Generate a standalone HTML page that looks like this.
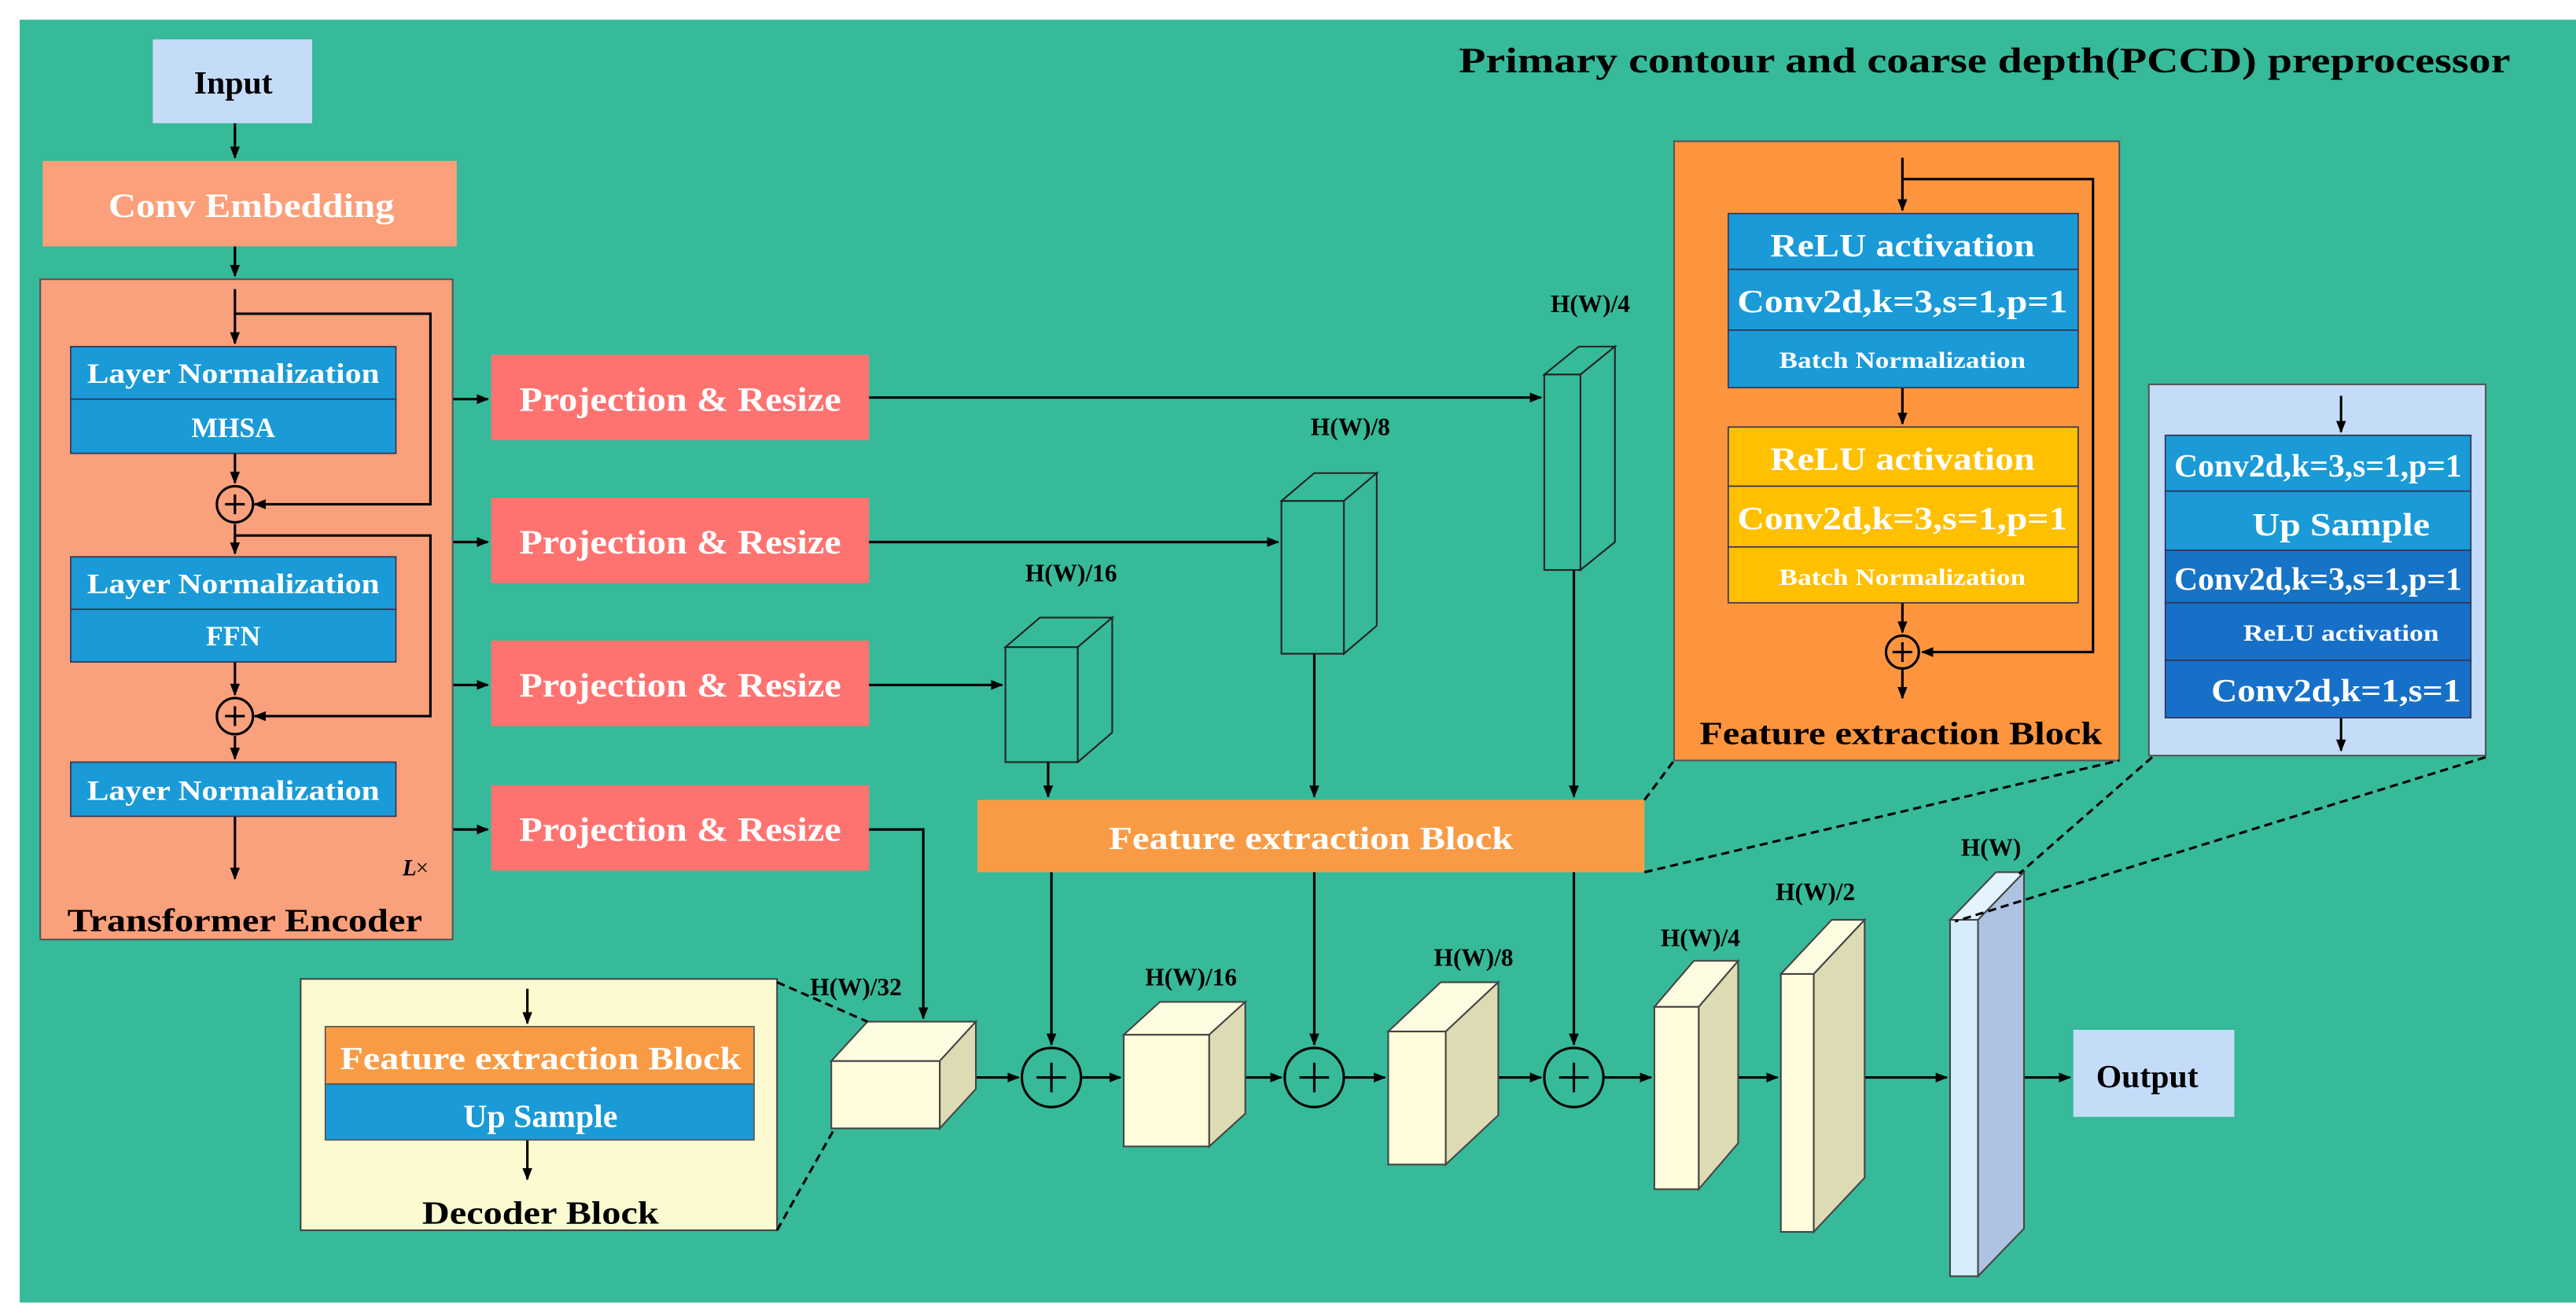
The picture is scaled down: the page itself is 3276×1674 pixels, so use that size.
<!DOCTYPE html>
<html><head><meta charset="utf-8"><style>html,body{margin:0;padding:0;background:#fff}svg{display:block}</style></head>
<body>
<svg width="3276" height="1674" viewBox="0 0 1568 801.2" xmlns="http://www.w3.org/2000/svg" font-family="'Liberation Serif', serif" font-weight="bold">
<defs>
<marker id="a" viewBox="0 0 10 10" refX="9" refY="5" markerWidth="5" markerHeight="5" orient="auto"><path d="M0,1 L10,5 L0,9 z" fill="#000"/></marker>
</defs>
<rect x="0" y="0" width="1568" height="801.2" fill="#fff"/>
<rect x="12" y="12" width="1556" height="781" fill="#36BA9A"/>
<text x="1528" y="44" font-size="22" text-anchor="end" textLength="640" lengthAdjust="spacingAndGlyphs">Primary contour and coarse depth(PCCD) preprocessor</text>

<g stroke="#000" stroke-width="1.5" fill="none">
<line x1="143" y1="75" x2="143" y2="96" marker-end="url(#a)"/>
<line x1="143" y1="150" x2="143" y2="168" marker-end="url(#a)"/>
</g>
<rect x="93" y="24" width="97" height="51" fill="#C5DCF9"/>
<text x="142" y="57" font-size="20" text-anchor="middle">Input</text>
<rect x="26" y="98" width="252" height="52" fill="#FBA07A"/>
<text x="153" y="132" font-size="21" fill="#fff" text-anchor="middle" textLength="174" lengthAdjust="spacingAndGlyphs">Conv Embedding</text>

<!-- Transformer encoder -->
<rect x="24.5" y="170" width="251" height="402" fill="#F9A07C" stroke="#555" stroke-width="1"/>
<g stroke="#000" stroke-width="1.5" fill="none">
<line x1="143" y1="176" x2="143" y2="209" marker-end="url(#a)"/>
<polyline points="143,191 262,191 262,307 155,307" marker-end="url(#a)"/>
<line x1="143" y1="276" x2="143" y2="294" marker-end="url(#a)"/>
<line x1="143" y1="319" x2="143" y2="337" marker-end="url(#a)"/>
<polyline points="143,326 262,326 262,436 155,436" marker-end="url(#a)"/>
<line x1="143" y1="403" x2="143" y2="423" marker-end="url(#a)"/>
<line x1="143" y1="448" x2="143" y2="462" marker-end="url(#a)"/>
<line x1="143" y1="497" x2="143" y2="535" marker-end="url(#a)"/>
<circle cx="143" cy="307" r="11"/><line x1="137" y1="307" x2="149" y2="307"/><line x1="143" y1="301" x2="143" y2="313"/>
<circle cx="143" cy="436" r="11"/><line x1="137" y1="436" x2="149" y2="436"/><line x1="143" y1="430" x2="143" y2="442"/>
</g>
<g stroke="#335" stroke-width="0.8" fill="#1A9AD6">
<rect x="43" y="211" width="198" height="32"/><rect x="43" y="243" width="198" height="33"/>
<rect x="43" y="339" width="198" height="32"/><rect x="43" y="371" width="198" height="32"/>
<rect x="43" y="464" width="198" height="33"/>
</g>
<g fill="#fff" font-size="17" text-anchor="middle">
<text x="142" y="233" textLength="178" lengthAdjust="spacingAndGlyphs">Layer Normalization</text>
<text x="142" y="266">MHSA</text>
<text x="142" y="361" textLength="178" lengthAdjust="spacingAndGlyphs">Layer Normalization</text>
<text x="142" y="393">FFN</text>
<text x="142" y="487" textLength="178" lengthAdjust="spacingAndGlyphs">Layer Normalization</text>
</g>
<text x="245" y="533" font-size="14" font-style="italic">L</text><text x="253" y="533" font-size="14" font-weight="normal">×</text>
<text x="149" y="567" font-size="20" text-anchor="middle" textLength="216" lengthAdjust="spacingAndGlyphs">Transformer Encoder</text>

<!-- projection boxes -->
<g fill="#FE7370">
<rect x="299" y="216" width="230" height="52"/><rect x="299" y="303" width="230" height="52"/>
<rect x="299" y="390" width="230" height="52"/><rect x="299" y="478" width="230" height="52"/>
</g>
<g fill="#fff" font-size="21" text-anchor="middle">
<text x="414" y="250" textLength="196" lengthAdjust="spacingAndGlyphs">Projection &amp; Resize</text>
<text x="414" y="337" textLength="196" lengthAdjust="spacingAndGlyphs">Projection &amp; Resize</text>
<text x="414" y="424" textLength="196" lengthAdjust="spacingAndGlyphs">Projection &amp; Resize</text>
<text x="414" y="512" textLength="196" lengthAdjust="spacingAndGlyphs">Projection &amp; Resize</text>
</g>
<g stroke="#000" stroke-width="1.5" fill="none">
<line x1="276" y1="243" x2="297" y2="243" marker-end="url(#a)"/>
<line x1="276" y1="330" x2="297" y2="330" marker-end="url(#a)"/>
<line x1="276" y1="417" x2="297" y2="417" marker-end="url(#a)"/>
<line x1="276" y1="505" x2="297" y2="505" marker-end="url(#a)"/>
<line x1="529" y1="242" x2="938" y2="242" marker-end="url(#a)"/>
<line x1="529" y1="330" x2="778" y2="330" marker-end="url(#a)"/>
<line x1="529" y1="417" x2="610" y2="417" marker-end="url(#a)"/>
<polyline points="529,505 562,505 562,620" marker-end="url(#a)"/>
<line x1="638" y1="464" x2="638" y2="485" marker-end="url(#a)"/>
<line x1="800" y1="398" x2="800" y2="485" marker-end="url(#a)"/>
<line x1="958" y1="347" x2="958" y2="485" marker-end="url(#a)"/>
<line x1="640" y1="531" x2="640" y2="636" marker-end="url(#a)"/>
<line x1="800" y1="531" x2="800" y2="636" marker-end="url(#a)"/>
<line x1="958" y1="531" x2="958" y2="636" marker-end="url(#a)"/>
</g>

<!-- upper teal boxes -->
<g stroke="#222" stroke-width="1" fill="#36BA9A">
<polygon points="940,228 961,211 983,211 962,228"/><polygon points="962,228 983,211 983,330 962,347"/><rect x="940" y="228" width="22" height="119"/>
<polygon points="780,305 800,288 838,288 818,305"/><polygon points="818,305 838,288 838,381 818,398"/><rect x="780" y="305" width="38" height="93"/>
<polygon points="612,394 633,376 677,376 656,394"/><polygon points="656,394 677,376 677,446 656,464"/><rect x="612" y="394" width="44" height="70"/>
</g>
<g font-size="15" text-anchor="middle">
<text x="968" y="190">H(W)/4</text>
<text x="822" y="265">H(W)/8</text>
<text x="652" y="354">H(W)/16</text>
</g>

<!-- feature extraction bar -->
<rect x="595" y="487" width="406" height="44" fill="#F99B45"/>
<text x="798" y="517" font-size="20" fill="#fff" text-anchor="middle" textLength="246" lengthAdjust="spacingAndGlyphs">Feature extraction Block</text>

<!-- bottom row -->
<g stroke="#000" stroke-width="1.5" fill="none">
<line x1="594" y1="656" x2="620" y2="656" marker-end="url(#a)"/>
<line x1="658" y1="656" x2="682" y2="656" marker-end="url(#a)"/>
<line x1="758" y1="656" x2="780" y2="656" marker-end="url(#a)"/>
<line x1="818" y1="656" x2="843" y2="656" marker-end="url(#a)"/>
<line x1="912" y1="656" x2="938" y2="656" marker-end="url(#a)"/>
<line x1="976" y1="656" x2="1005" y2="656" marker-end="url(#a)"/>
<line x1="1058" y1="656" x2="1082" y2="656" marker-end="url(#a)"/>
<line x1="1135" y1="656" x2="1185" y2="656" marker-end="url(#a)"/>
<line x1="1232" y1="656" x2="1260" y2="656" marker-end="url(#a)"/>
<circle cx="640" cy="656" r="18"/><line x1="631" y1="656" x2="649" y2="656"/><line x1="640" y1="647" x2="640" y2="665"/>
<circle cx="800" cy="656" r="18"/><line x1="791" y1="656" x2="809" y2="656"/><line x1="800" y1="647" x2="800" y2="665"/>
<circle cx="958" cy="656" r="18"/><line x1="949" y1="656" x2="967" y2="656"/><line x1="958" y1="647" x2="958" y2="665"/>
</g>
<g stroke="#444" stroke-width="1">
<polygon points="506,646 528,622 594,622 572,646" fill="#FDFBE0"/><polygon points="572,646 594,622 594,663 572,687" fill="#DDDBB4"/><rect x="506" y="646" width="66" height="41" fill="#FEFCDB"/>
<polygon points="684,630 706,610 758,610 736,630" fill="#FDFBE0"/><polygon points="736,630 758,610 758,678 736,698" fill="#DDDBB4"/><rect x="684" y="630" width="52" height="68" fill="#FEFCDB"/>
<polygon points="845,628 877,598 912,598 880,628" fill="#FDFBE0"/><polygon points="880,628 912,598 912,679 880,709" fill="#DDDBB4"/><rect x="845" y="628" width="35" height="81" fill="#FEFCDB"/>
<polygon points="1007,613 1031,585 1058,585 1034,613" fill="#FDFBE0"/><polygon points="1034,613 1058,585 1058,696 1034,724" fill="#DDDBB4"/><rect x="1007" y="613" width="27" height="111" fill="#FEFCDB"/>
<polygon points="1084,593 1115,560 1135,560 1104,593" fill="#FDFBE0"/><polygon points="1104,593 1135,560 1135,717 1104,750" fill="#DDDBB4"/><rect x="1084" y="593" width="20" height="157" fill="#FEFCDB"/>
<polygon points="1187,560 1215,531 1232,531 1204,560" fill="#E4F4FE"/><polygon points="1204,560 1232,531 1232,748 1204,777" fill="#AEC2E2"/><rect x="1187" y="560" width="17" height="217" fill="#D6EDFC"/>
</g>
<g font-size="15" text-anchor="middle">
<text x="521" y="606">H(W)/32</text>
<text x="725" y="600">H(W)/16</text>
<text x="897" y="588">H(W)/8</text>
<text x="1035" y="576">H(W)/4</text>
<text x="1105" y="548">H(W)/2</text>
<text x="1212" y="521">H(W)</text>
</g>
<rect x="1262" y="627" width="98" height="53" fill="#C5DCF9"/>
<text x="1307" y="662" font-size="20" text-anchor="middle">Output</text>

<!-- decoder block -->
<rect x="183" y="596" width="290" height="153" fill="#FCFAD0" stroke="#444" stroke-width="1"/>
<g stroke="#000" stroke-width="1.5" fill="none">
<line x1="321" y1="602" x2="321" y2="623" marker-end="url(#a)"/>
<line x1="321" y1="694" x2="321" y2="718" marker-end="url(#a)"/>
</g>
<rect x="198" y="625" width="261" height="35" fill="#F99B45" stroke="#555" stroke-width="0.8"/>
<rect x="198" y="660" width="261" height="34" fill="#1A9AD6" stroke="#555" stroke-width="0.8"/>
<text x="329" y="651" font-size="20" fill="#fff" text-anchor="middle" textLength="244" lengthAdjust="spacingAndGlyphs">Feature extraction Block</text>
<text x="329" y="686" font-size="20" fill="#fff" text-anchor="middle">Up Sample</text>
<text x="329" y="745" font-size="20" text-anchor="middle" textLength="144" lengthAdjust="spacingAndGlyphs">Decoder Block</text>

<!-- feature extraction detail -->
<rect x="1019" y="86" width="271" height="377" fill="#FD953F" stroke="#555" stroke-width="1"/>
<g stroke="#000" stroke-width="1.5" fill="none">
<line x1="1158" y1="96" x2="1158" y2="128" marker-end="url(#a)"/>
<polyline points="1158,109 1274,109 1274,397 1170,397" marker-end="url(#a)"/>
<line x1="1158" y1="236" x2="1158" y2="258" marker-end="url(#a)"/>
<line x1="1158" y1="367" x2="1158" y2="385" marker-end="url(#a)"/>
<line x1="1158" y1="407" x2="1158" y2="425" marker-end="url(#a)"/>
<circle cx="1158" cy="397" r="10"/><line x1="1152" y1="397" x2="1164" y2="397"/><line x1="1158" y1="391" x2="1158" y2="403"/>
</g>
<g stroke="#335" stroke-width="0.8">
<rect x="1052" y="130" width="213" height="34" fill="#1A9AD6"/><rect x="1052" y="164" width="213" height="37" fill="#1A9AD6"/><rect x="1052" y="201" width="213" height="35" fill="#1A9AD6"/>
<rect x="1052" y="260" width="213" height="36" fill="#FFC000"/><rect x="1052" y="296" width="213" height="37" fill="#FFC000"/><rect x="1052" y="333" width="213" height="34" fill="#FFC000"/>
</g>
<g fill="#fff" text-anchor="middle">
<text x="1158" y="156" font-size="20" textLength="161" lengthAdjust="spacingAndGlyphs">ReLU activation</text>
<text x="1158" y="190" font-size="20" textLength="201" lengthAdjust="spacingAndGlyphs">Conv2d,k=3,s=1,p=1</text>
<text x="1158" y="224" font-size="14" textLength="150" lengthAdjust="spacingAndGlyphs">Batch Normalization</text>
<text x="1158" y="286" font-size="20" textLength="161" lengthAdjust="spacingAndGlyphs">ReLU activation</text>
<text x="1158" y="322" font-size="20" textLength="201" lengthAdjust="spacingAndGlyphs">Conv2d,k=3,s=1,p=1</text>
<text x="1158" y="356" font-size="14" textLength="150" lengthAdjust="spacingAndGlyphs">Batch Normalization</text>
</g>
<text x="1157" y="453" font-size="20" text-anchor="middle" textLength="245" lengthAdjust="spacingAndGlyphs">Feature extraction Block</text>

<!-- upsample detail -->
<rect x="1308" y="234" width="205" height="226" fill="#C5DCF9" stroke="#555" stroke-width="1"/>
<g stroke="#000" stroke-width="1.5" fill="none">
<line x1="1425" y1="241" x2="1425" y2="263" marker-end="url(#a)"/>
<line x1="1425" y1="437" x2="1425" y2="457" marker-end="url(#a)"/>
</g>
<g stroke="#335" stroke-width="0.8">
<rect x="1318" y="265" width="186" height="34" fill="#1A9AD6"/><rect x="1318" y="299" width="186" height="36" fill="#1A9AD6"/>
<rect x="1318" y="335" width="186" height="32" fill="#1673C6"/><rect x="1318" y="367" width="186" height="35" fill="#1670C8"/><rect x="1318" y="402" width="186" height="35" fill="#1670C8"/>
</g>
<g fill="#fff" text-anchor="middle">
<text x="1411" y="290" font-size="20" textLength="175" lengthAdjust="spacingAndGlyphs">Conv2d,k=3,s=1,p=1</text>
<text x="1425" y="326" font-size="20" textLength="108" lengthAdjust="spacingAndGlyphs">Up Sample</text>
<text x="1411" y="359" font-size="20" textLength="175" lengthAdjust="spacingAndGlyphs">Conv2d,k=3,s=1,p=1</text>
<text x="1425" y="390" font-size="14" textLength="119" lengthAdjust="spacingAndGlyphs">ReLU activation</text>
<text x="1422" y="427" font-size="20" textLength="152" lengthAdjust="spacingAndGlyphs">Conv2d,k=1,s=1</text>
</g>

<!-- dashed connectors -->
<g stroke="#000" stroke-width="1.5" stroke-dasharray="5,3" fill="none">
<line x1="1001" y1="487" x2="1019" y2="463"/>
<line x1="1001" y1="531" x2="1290" y2="463"/>
<line x1="1310" y1="461" x2="1229" y2="532"/>
<line x1="1513" y1="461" x2="1190" y2="561"/>
<line x1="473" y1="598" x2="528" y2="622"/>
<line x1="473" y1="749" x2="508" y2="687"/>
</g>
</svg>
</body></html>
